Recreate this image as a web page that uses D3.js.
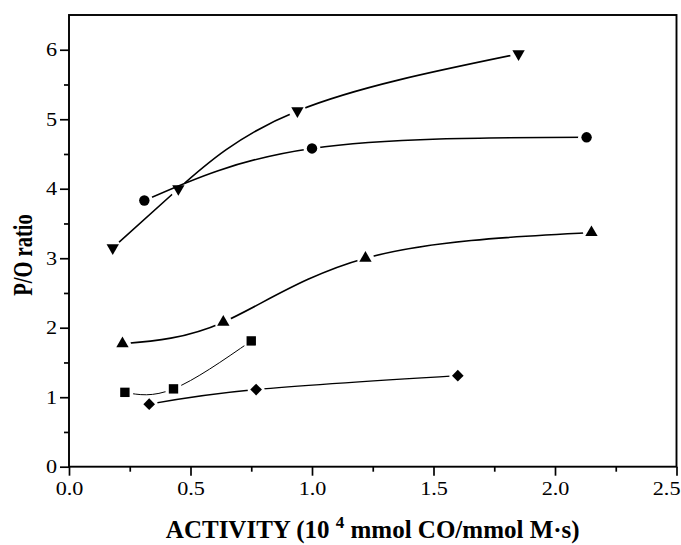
<!DOCTYPE html>
<html>
<head>
<meta charset="utf-8">
<script src="https://cdn.jsdelivr.net/npm/d3@7"></script>
<style>
  html, body { margin: 0; padding: 0; background: #fff; }
  svg { display: block; }
  text { font-family: "Liberation Serif", "Times New Roman", serif; fill: #000; }
</style>
</head>
<body>
<svg id="chart" width="681" height="545"></svg>
<script>
// ---- data ----
const xTicks = [0, 0.5, 1.0, 1.5, 2.0, 2.5];
const xMinorTicks = [0.25, 0.75, 1.25, 1.75, 2.25];
const yTicks = [0, 1, 2, 3, 4, 5, 6];
const yMinorTicks = [0.5, 1.5, 2.5, 3.5, 4.5, 5.5];

const downTriX = [0.18, 0.45, 0.94, 1.85];
const downTriY = [3.15, 4.00, 5.12, 5.94];

const circleX = [0.31, 1.00, 2.13];
const circleY = [3.83, 4.58, 4.74];

const upTriX = [0.22, 0.635, 1.22, 2.15];
const upTriY = [1.77, 2.08, 3.00, 3.37];

const squareX = [0.23, 0.43, 0.75];
const squareY = [1.07, 1.12, 1.81];

const diamondX = [0.33, 0.77, 1.60];
const diamondY = [0.90, 1.11, 1.31];

const xLabelMain = "ACTIVITY (10 ";
const xLabelSup = "4";
const xLabelEnd = " mmol CO/mmol M·s)";
const yLabel = "P/O ratio";

// ---- layout ----
const svg = d3.select("#chart");
const pLeft = 69, pRight = 676.5, pTop = 15, pBottom = 466.7;
const W = 681;

const x = d3.scaleLinear().domain([0, 2.5]).range([pLeft, pRight]);
const y = d3.scaleLinear().domain([0, 6.5]).range([pBottom, pTop]);

const series = [
  { id: "down", xs: downTriX, ys: downTriY, symbol: d3.symbolTriangle, size: 66, rotate: 180, width: 1.6 },
  { id: "circ", xs: circleX, ys: circleY, symbol: d3.symbolCircle, size: 85, rotate: 0, width: 1.6 },
  { id: "up", xs: upTriX, ys: upTriY, symbol: d3.symbolTriangle, size: 66, rotate: 0, width: 1.6 },
  { id: "sq", xs: squareX, ys: squareY, symbol: d3.symbolSquare, size: 88, rotate: 0, width: 1.0 },
  { id: "dia", xs: diamondX, ys: diamondY, symbol: d3.symbolSquare, size: 68, rotate: 45, width: 1.4 }
];

const defs = svg.append("defs");
const line = d3.line().curve(d3.curveNatural).x(d => x(d[0])).y(d => y(d[1]));

series.forEach(s => {
  const pts = s.xs.map((v, i) => [v, s.ys[i]]);
  const mask = defs.append("mask").attr("id", "m-" + s.id)
    .attr("maskUnits", "userSpaceOnUse").attr("x", 0).attr("y", 0).attr("width", 681).attr("height", 545);
  mask.append("rect").attr("x", 0).attr("y", 0).attr("width", 681).attr("height", 545).attr("fill", "#fff");
  mask.selectAll("circle").data(pts).join("circle")
    .attr("cx", d => x(d[0])).attr("cy", d => y(d[1])).attr("r", 8.5).attr("fill", "#000");

  svg.append("path").datum(pts)
    .attr("d", line)
    .attr("fill", "none")
    .attr("stroke", "#000")
    .attr("stroke-width", s.width)
    .attr("mask", "url(#m-" + s.id + ")");

  svg.append("g").selectAll("path").data(pts).join("path")
    .attr("d", d3.symbol().type(s.symbol).size(s.size))
    .attr("transform", d => `translate(${x(d[0])},${y(d[1])}) rotate(${s.rotate})`)
    .attr("fill", "#000");
});

// ---- frame ----
svg.append("rect")
  .attr("x", pLeft).attr("y", pTop)
  .attr("width", pRight - pLeft).attr("height", pBottom - pTop)
  .attr("fill", "none").attr("stroke", "#000").attr("stroke-width", 1.9);

// ---- axes ----
const sx = 1.2; // horizontal stretch of the tick-label glyphs in the reference
const xAxis = svg.append("g").attr("transform", `translate(0,${pBottom})`)
  .call(d3.axisBottom(x).tickValues(xTicks).tickSize(9).tickPadding(6).tickFormat(d3.format(".1f")));
const xMinor = svg.append("g").attr("transform", `translate(0,${pBottom})`)
  .call(d3.axisBottom(x).tickValues(xMinorTicks).tickSize(5).tickFormat(""));
const yAxis = svg.append("g").attr("transform", `translate(${pLeft},0)`)
  .call(d3.axisLeft(y).tickValues(yTicks).tickSize(9).tickPadding(3).tickFormat(d3.format("d")));
const yMinor = svg.append("g").attr("transform", `translate(${pLeft},0)`)
  .call(d3.axisLeft(y).tickValues(yMinorTicks).tickSize(5).tickFormat(""));

[xAxis, xMinor, yAxis, yMinor].forEach(g => {
  g.select(".domain").remove();
  g.selectAll(".tick line").attr("stroke", "#000").attr("stroke-width", 1.7);
  g.selectAll(".tick text")
    .attr("font-family", '"Liberation Serif", "Times New Roman", serif')
    .attr("font-size", 18.5).attr("fill", "#000")
    .each(function () {
      const t = d3.select(this);
      const x0 = +t.attr("x") || 0;
      t.attr("x", x0 / sx).attr("transform", `scale(${sx},1)`);
    });
});

// keep the last x tick label inside the picture, as in the reference
xAxis.selectAll(".tick").each(function () {
  const g = d3.select(this);
  const txt = g.select("text").node();
  if (!txt) return;
  const b = txt.getBBox();
  const tx = x(g.datum());
  const rightEdge = tx + (b.x + b.width) * sx;
  if (rightEdge > W - 1) {
    const shift = (rightEdge - (W - 1)) / sx;
    g.select("text").attr("x", (+g.select("text").attr("x")) - shift);
  }
});

// ---- axis titles ----
const xt = svg.append("text")
  .attr("x", (pLeft + pRight) / 2).attr("y", 538)
  .attr("text-anchor", "middle")
  .attr("font-size", 25).attr("font-weight", "bold")
  .style("white-space", "pre");
xt.append("tspan").text(xLabelMain);
xt.append("tspan").attr("dy", -10).attr("font-size", 17).text(xLabelSup);
xt.append("tspan").attr("dy", 10).text(xLabelEnd);

svg.append("text")
  .attr("transform", `translate(31.5,255) rotate(-90) scale(1,1.38)`)
  .attr("text-anchor", "middle")
  .attr("font-size", 20.5).attr("font-weight", "bold")
  .text(yLabel);
</script>
</body>
</html>
